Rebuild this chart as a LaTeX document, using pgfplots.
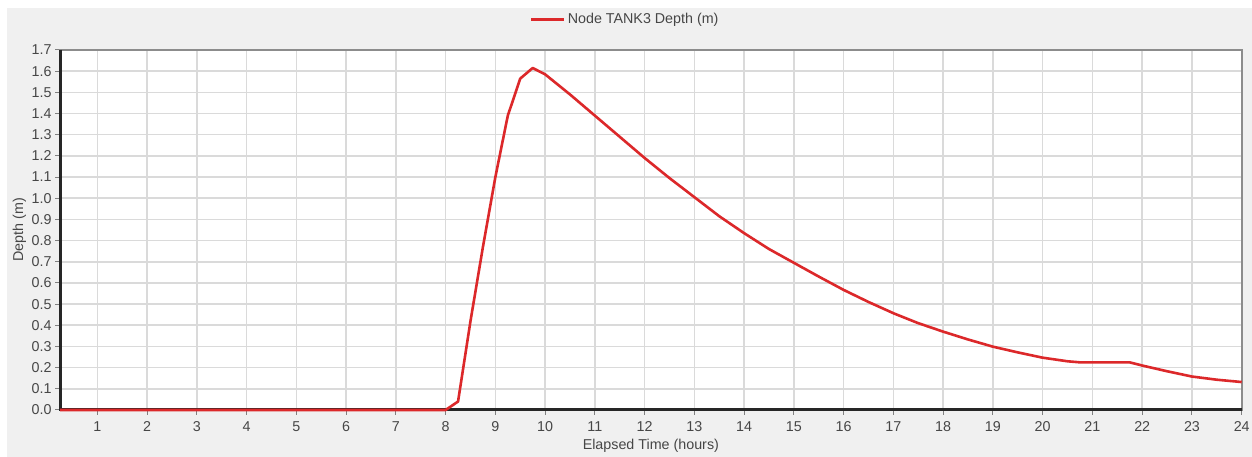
\documentclass[border=0pt]{standalone}
\usepackage{pgfplots}
\pgfplotsset{compat=1.18}
\usepackage{fontspec}
\setmainfont{Liberation Sans}
\definecolor{bgray}{RGB}{240,240,240}
\definecolor{gridc}{RGB}{218,218,218}
\definecolor{txt}{RGB}{70,70,70}
\definecolor{redl}{RGB}{220,40,42}
\pgfplotstableread{
t d
0.25 0
8 0
8.25 0.04
8.5 0.42
8.75 0.77
9 1.10
9.25 1.39
9.5 1.565
9.75 1.615
10 1.585
10.5 1.49
11 1.39
11.5 1.29
12 1.19
12.5 1.095
13 1.005
13.5 0.915
14 0.835
14.5 0.76
15 0.695
15.5 0.63
16 0.567
16.5 0.51
17 0.457
17.5 0.41
18 0.37
18.5 0.333
19 0.299
19.5 0.272
20 0.247
20.5 0.230
20.75 0.225
21.75 0.225
22 0.21
22.5 0.183
23 0.158
23.5 0.143
24 0.132
}\depth
\begin{document}
\begin{tikzpicture}
\useasboundingbox (0,0) rectangle (1252pt,457pt);
\fill[white] (0,0) rectangle (1252pt,457pt);
\fill[bgray] (7pt,0) rectangle (1252pt,449pt);
\begin{axis}[
  at={(60pt,47pt)}, anchor=south west,
  scale only axis, width=1181.7pt, height=360pt,
  xmin=0.25, xmax=24, ymin=0, ymax=1.7,
  xtick={1,2,3,4,5,6,7,8,9,10,11,12,13,14,15,16,17,18,19,20,21,22,23,24},
  ytick={0,0.1,0.2,0.3,0.4,0.5,0.6,0.7,0.8,0.9,1.0,1.1,1.2,1.3,1.4,1.5,1.6,1.7},
  /pgf/number format/assume math mode=true,
  yticklabel style={/pgf/number format/.cd, fixed, fixed zerofill, precision=1},
  xticklabel style={yshift=-3pt},
  tick label style={font=\fontsize{14.3}{16}\selectfont, text=txt},
  tick align=outside, major tick length=5pt,
  tick style={color=gray, line width=1pt},
  xtick pos=bottom, ytick pos=left,
  grid=major, major grid style={color=gridc, line width=1.6pt},
  axis line style={color=gray!90, line width=2pt},
  axis background/.style={fill=white},
  clip=false,
  xlabel={Elapsed Time (hours)}, ylabel={Depth (m)},
  every axis x label/.style={at={(axis description cs:0.5,-0.111)}, anchor=base, font=\fontsize{14.3}{16}\selectfont, text=txt},
  every axis y label/.style={at={(axis description cs:-0.0313,0.5)}, anchor=base, rotate=90, font=\fontsize{14.3}{16}\selectfont, text=txt},
  legend style={at={(axis description cs:0.3977,1.085)}, anchor=west, draw=none, fill=none, inner sep=0pt,
    font=\fontsize{14.3}{16}\selectfont, text=txt},
  legend image code/.code={\draw[#1] (0pt,0pt) -- (33pt,0pt);},
]
\draw[black!85, line width=3pt] (axis description cs:0,1) -- (axis description cs:0,0) -- (axis description cs:1,0);
\addplot[redl, line width=2.6pt, line join=round] table[x=t, y=d] {\depth};
\addlegendentry{Node TANK3 Depth (m)}
\end{axis}
\end{tikzpicture}
\end{document}
